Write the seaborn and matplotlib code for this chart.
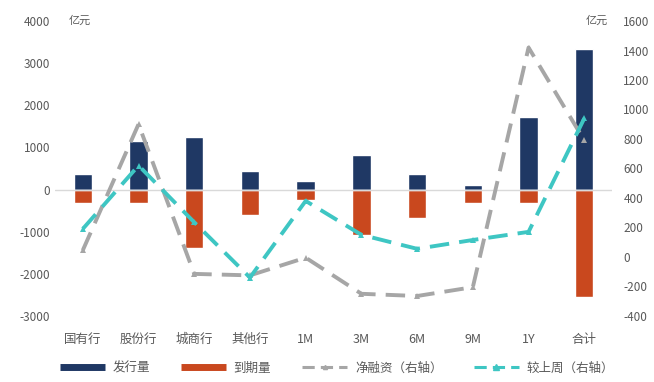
import numpy as np
import pandas as pd
import seaborn as sns
import matplotlib
matplotlib.use("Agg")
import matplotlib.pyplot as plt
from matplotlib.lines import Line2D

categories = ["国有行", "股份行", "城商行", "其他行", "1M", "3M", "6M", "9M", "1Y", "合计"]
issuance = [380, 1160, 1250, 450, 210, 810, 380, 100, 1730, 3340]
maturity = [-330, -310, -1380, -600, -240, -1070, -670, -310, -330, -2560]
net_financing = [45, 900, -115, -125, -5, -250, -265, -205, 1420, 790]
wow_change = [190, 620, 235, -140, 380, 150, 55, 115, 170, 940]

left_ticks = [-3000, -2000, -1000, 0, 1000, 2000, 3000, 4000]
right_ticks = [-400, -200, 0, 200, 400, 600, 800, 1000, 1200, 1400, 1600]

sns.set_style("white")
plt.rcParams["font.family"] = ["Noto Sans CJK SC", "DejaVu Sans"]
plt.rcParams["axes.unicode_minus"] = False

navy = "#1F3864"
orange = "#C9481E"
gray = "#A6A6A6"
cyan = "#3EC6C3"
txt = "#595959"

df = pd.DataFrame({"cat": categories, "iss": issuance, "mat": maturity,
                   "net": net_financing, "wow": wow_change})
df["pos"] = np.arange(len(categories))

fig = plt.figure(figsize=(6.54, 3.82), dpi=100)
ax = fig.add_axes([0.084, 0.173, 0.852, 0.772])

sns.barplot(data=df, x="cat", y="iss", color=navy, width=0.33, ax=ax, saturation=1)
sns.barplot(data=df, x="cat", y="mat", color=orange, width=0.33, ax=ax, saturation=1)
ax.set_ylim(-3000, 4000)
ax.set_yticks(left_ticks)
ax.set_xlim(-0.5, len(categories) - 0.5)
ax.axhline(0, color="#D9D9D9", lw=1, zorder=1)
ax.set_xlabel("")
ax.set_ylabel("")
for s in ax.spines.values():
    s.set_visible(False)
ax.tick_params(axis="both", length=0, colors=txt, labelsize=8.5)
ax.tick_params(axis="x", pad=12, labelsize=9)

ax2 = ax.twinx()
sns.lineplot(data=df, x="pos", y="net", ax=ax2, color=gray, lw=2.8,
             dashes=False, marker="^", markersize=4, markeredgewidth=0)
sns.lineplot(data=df, x="pos", y="wow", ax=ax2, color=cyan, lw=2.8,
             dashes=False, marker="^", markersize=5, markeredgewidth=0)
for line in ax2.get_lines():
    line.set_linestyle((0, (5, 2.6)))
ax2.set_ylim(-400, 1600)
ax2.set_yticks(right_ticks)
ax2.set_xlim(-0.5, len(categories) - 0.5)
ax2.set_xlabel("")
ax2.set_ylabel("")
for s in ax2.spines.values():
    s.set_visible(False)
ax2.tick_params(axis="y", length=0, colors=txt, labelsize=8.5, pad=8)

fig.text(0.105, 0.945, "亿元", fontsize=8, color=txt, va="center")
fig.text(0.895, 0.945, "亿元", fontsize=8, color=txt, va="center")

handles = [
    Line2D([0], [0], color=navy, lw=5, solid_capstyle="butt"),
    Line2D([0], [0], color=orange, lw=5, solid_capstyle="butt"),
    Line2D([0], [0], color=gray, lw=2.2, ls=(0, (4, 2)), marker="^", markersize=3),
    Line2D([0], [0], color=cyan, lw=2.2, ls=(0, (4, 2)), marker="^", markersize=4),
]
labels = ["发行量", "到期量", "净融资（右轴）", "较上周（右轴）"]
leg = fig.legend(handles, labels, loc="lower center", bbox_to_anchor=(0.515, -0.01), ncol=4,
                 frameon=False, fontsize=9, handlelength=3.6, handletextpad=0.6,
                 columnspacing=2.5)
for t in leg.get_texts():
    t.set_color(txt)

fig.savefig("out.png", dpi=100)
